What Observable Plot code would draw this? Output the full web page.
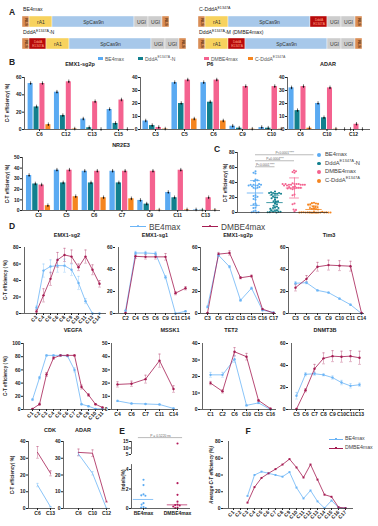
<!DOCTYPE html>
<html><head><meta charset="utf-8">
<script src="https://cdn.jsdelivr.net/npm/d3@7"></script>
<script src="https://cdn.jsdelivr.net/npm/@observablehq/plot@0.6"></script>
<style>
html,body{margin:0;padding:0;background:#fff;}
#root{position:relative;width:378px;height:526px;overflow:hidden;font-family:"Liberation Sans",Arial,sans-serif;color:#222;}
.t{position:absolute;white-space:nowrap;line-height:1;}
sup{font-size:70%;vertical-align:super;line-height:0;}
</style></head><body><div id="root"></div>
<script>
// ---------------- DATA ----------------
// Panel A: construct parts (relative lengths)
const partNames = ["NLS", "rA1", "SpCas9n", "UGI", "DddA"];
const partLen = {NLS: 7, rA1: 23, SpCas9n: 82, UGI: 14, DddA: 17};
const constructBE4max = ["NLS", "rA1", "SpCas9n", "UGI", "UGI", "NLS"];
const constructCDddA = ["NLS", "rA1", "SpCas9n", "DddA", "UGI", "UGI", "NLS"];
const constructDddAN = ["NLS", "DddA", "rA1", "SpCas9n", "UGI", "UGI", "NLS"];
const constructDMBE4max = ["NLS", "rA1", "DddA", "SpCas9n", "UGI", "UGI", "NLS"];

// Panel B
const bSeries = ["BE4max", "DddA-N", "DMBE4max", "C-DddA"];
const emx1Sites = ["C6", "C12", "C13", "C15"];
const emx1BE4max = [53, 43, 12, 23];
const emx1DddAN = [26, 16, 2, 7];
const emx1DMBE4max = [53, 55, 32, 34];
const emx1CDddA = [5.5, 0.5, 0, 0];
const p6Sites = ["C3", "C5", "C6", "C9", "C10"];
const p6BE4max = [6.5, 36, 36, 2.5, 1.5];
const p6DddAN = [3, 20, 21, 1, 1];
const p6DMBE4max = [1.5, 38, 38, 33, 33];
const p6CDddA = [0.3, 8, 6.5, 0.2, 0.2];
const adarSites = ["C6", "C10", "C12"];
const adarBE4max = [32, 20, 0];
const adarDddAN = [14.5, 9, 0];
const adarDMBE4max = [33, 32, 4];
const adarCDddA = [1, 0.2, 0];
const nr2e3Sites = ["C3", "C5", "C6", "C7", "C9", "C11", "C13"];
const nr2e3BE4max = [33, 38, 37, 37, 9.5, 17, 0.5];
const nr2e3DddAN = [25, 26, 26, 26, 6, 12, 0.3];
const nr2e3DMBE4max = [24, 38, 37, 37, 37, 38, 12];
const nr2e3CDddA = [4.5, 13, 12, 11, 0.3, 0.5, 0.2];

// Panel C (per-position efficiencies)
const cBE4max = [55, 52, 53, 44, 42, 43, 12, 11, 23, 22, 6.5, 6, 36, 37, 36, 35, 2.5, 1.5, 32, 33, 20, 21, 0, 33, 34, 38, 37, 37, 36, 9.5, 17, 18, 0.5, 0.3];
const cDddAN = [28, 25, 26, 17, 15, 2, 1, 7, 6, 3, 2.5, 20, 21, 20, 19, 1, 0.5, 1, 14.5, 15, 9, 8, 0, 25, 24, 26, 27, 26, 25, 6, 5, 12, 11, 0.3];
const cDMBE4max = [53, 54, 55, 56, 32, 31, 34, 35, 1.5, 38, 39, 38, 37, 33, 32, 33, 34, 33, 32, 4, 3.5, 24, 23, 38, 37, 37, 36, 37, 38, 37, 36, 38, 12, 11];
const cCDddA = [5.5, 5, 0.5, 0, 0, 0, 0.3, 8, 7.5, 7, 6, 0.2, 0, 1, 0, 0, 4.5, 4, 13, 12.5, 12, 11.5, 11, 10.5, 0.3, 0.2, 0.2, 0, 0, 0];
const cPvalues = [
  {a: 0, b: 3, y: 77, t: "P<0.0001****"},
  {a: 0, b: 2, y: 69, t: "P=0.0004***"},
  {a: 0, b: 1, y: 61, t: "P<0.0001****"}
];

// Panel D
const dSeries = ["BE4max", "DMBE4max"];
const emx1sg2Cats = ["C3", "C4", "C5", "C6", "C8", "C9", "C10", "C11", "C13", "C14"];
const emx1sg2BE4max = [7, 52, 57, 58, 58, 53, 37, 15, 0, 0];
const emx1sg2DMBE4max = [2.5, 22, 42, 65, 71, 69, 56, 69, 53, 36];
const emx1sg2ErrB = [2, 8, 8, 8, 8, 7, 8, 3, 0, 0];
const emx1sg2ErrR = [2, 8, 8, 9, 8, 8, 4, 8, 6, 4];
const emx1sg1Cats = ["C2", "C4", "C5", "C6", "C9", "C11", "C14"];
const emx1sg1BE4max = [2.5, 55, 55, 54.5, 33, 0, 2];
const emx1sg1DMBE4max = [0.5, 52, 51.5, 51.5, 51.5, 18.5, 23];
const emx1sg1ErrB = [0.5, 1.5, 1.5, 1.5, 1.5, 0, 0.5];
const emx1sg1ErrR = [0.3, 2, 2, 2, 3, 1.5, 1.5];
const emx1sg2pCats = ["C3", "C6", "C12", "C13", "C15", "C16", "C17"];
const emx1sg2pLineBE4max = [6, 53, 42.5, 12, 23, 3, 1];
const emx1sg2pLineDMBE4max = [0.5, 54, 55, 32.5, 34, 4, 0.5];
const emx1sg2pErrB = [1, 1, 1, 1, 1, 0.5, 0.2];
const emx1sg2pErrR = [0.3, 1.5, 2, 1, 1, 0.5, 0.2];
const tim3Cats = ["C3", "C6", "C8", "C9", "C10", "C11", "C14"];
const tim3BE4max = [27.5, 28, 21, 19, 13.5, 8, 0];
const tim3DMBE4max = [23.5, 31.5, 42.5, 44, 43.5, 43, 0.5];
const tim3ErrB = [1.5, 1, 0.5, 0.5, 0.5, 0.5, 0];
const tim3ErrR = [3, 3, 4, 4.5, 4.5, 4.5, 0.3];
const vegfaCats = ["C1", "C2", "C3", "C4", "C5", "C6", "C7", "C8", "C9", "C10", "C11"];
const vegfaBE4max = [15, 48, 82, 82, 82, 81, 60, 8, 5, 1, 1];
const vegfaDMBE4max = [1, 8, 53, 78, 82, 82, 82, 34, 22, 8, 3];
const vegfaErrB = [1.5, 2, 1, 1, 1, 1, 3, 1, 1, 0.5, 0.3];
const vegfaErrR = [0.5, 1.5, 3, 2, 1, 1, 1, 3, 2, 1, 0.5];
const mssk1Cats = ["C4", "C6", "C7", "C11", "C14"];
const mssk1BE4max = [6.5, 4.5, 4.2, 3.8, 0.8];
const mssk1DMBE4max = [19, 19.5, 23, 37, 15.5];
const mssk1ErrB = [0.5, 0.3, 0.3, 0.3, 0.3];
const mssk1ErrR = [2, 2, 3, 5, 2.5];
const tet2Cats = ["C1", "C2", "C6", "C10", "C15", "C16"];
const tet2BE4max = [21, 21, 30.5, 2.5, 4, 0];
const tet2DMBE4max = [16, 11, 35, 32, 5.5, 0.5];
const tet2ErrB = [1.5, 1.5, 2, 0.3, 0.5, 0.2];
const tet2ErrR = [1, 1, 2.5, 2, 0.5, 0.3];
const dnmt3bCats = ["C5", "C6", "C7", "C8", "C9", "C10", "C11", "C13"];
const dnmt3bBE4max = [12.5, 32, 32.5, 31.5, 29, 24.5, 21.5, 22.5];
const dnmt3bDMBE4max = [0.5, 17.5, 37, 46.5, 48.5, 48, 48.5, 47];
const dnmt3bErrB = [3, 1.5, 1.5, 1, 1.5, 2, 2, 1.5];
const dnmt3bErrR = [0.5, 1.5, 4, 5, 5, 5, 5, 6];
const cdkCats = ["C6", "C13"];
const cdkBE4max = [14, 1];
const cdkDMBE4max = [33.5, 21];
const cdkErrB = [1, 0.2];
const cdkErrR = [3.5, 1.5];
const adarLineCats = ["C6", "C10", "C12"];
const adarLineBE4max = [32.5, 21, 0];
const adarLineDMBE4max = [33.5, 33, 4];
const adarLineErrB = [1, 1, 0.2];
const adarLineErrR = [2, 2, 0.3];

// Panel E (indels %)
const eGroups = ["BE4max", "DMBE4max"];
const eBE4max = [2.95, 2.4, 1.45, 1.35, 1.3, 0.55, 0.4, 0.15, 0.1, 0.05];
const eDMBE4max = [13.5, 2.6, 1.4, 0.7, 0.4, 0.35, 0.3, 0.2, 0.1, 0.05];
const eTicks = [0, 2, 4, 5, 10, 15];

// Panel F
const fCats = ["C1","C2","C3","C4","C5","C6","C7","C8","C9","C10","C11","C12","C13","C14","C15","C16","C17"];
const fBE4max = [null, null, 15, 40, 44, 42, 40, 38, 43.5, 25, 12, 21.5, 8.5, 0.5, 9.5, 1, 0.5];
const fDMBE4max = [null, null, 7, 25.5, 36.5, 42, 47, 52.5, 59, 49, 37, 52.5, 34.5, 16.5, 14, 1.5, 0.5];

// ---------------- STYLE ----------------
const FONT = '"Liberation Sans", Arial, sans-serif';
const partColors = ["#d98d55", "#f7d25e", "#a7c8ea", "#cdcdcd", "#b80a0a"];
const bColors = ["#5aaaf2", "#12808e", "#f4628f", "#f5851f"];
const dColors = ["#6cb5f6", "#a51c52"];
const root = document.getElementById("root");
const baseStyle = () => ({fontFamily: FONT, fontSize: "5px", fontWeight: "bold", background: "transparent", overflow: "visible", color: "#222"});
function place(el, left, top) {
  el.style.position = "absolute"; el.style.left = left + "px"; el.style.top = top + "px";
  root.appendChild(el);
}
function label(html, x, y, o = {}) {
  const el = document.createElement("div");
  el.className = "t";
  el.innerHTML = html;
  el.style.left = x + "px"; el.style.top = y + "px";
  el.style.fontSize = (o.size || 5) + "px";
  el.style.fontWeight = o.weight || "bold";
  if (o.color) el.style.color = o.color;
  if (o.italic) el.style.fontStyle = "italic";
  const ax = o.anchor === "start" ? "0" : o.anchor === "end" ? "-100%" : "-50%";
  el.style.transform = `translate(${ax}, -50%)` + (o.rotate ? ` rotate(${o.rotate}deg)` : "");
  root.appendChild(el);
}
function swatch(x, y, w, h, color, radius = 0) {
  const el = document.createElement("div");
  Object.assign(el.style, {position: "absolute", left: (x - w / 2) + "px", top: (y - h / 2) + "px", width: w + "px", height: h + "px", background: color, borderRadius: radius + "px"});
  root.appendChild(el);
}

// ---------------- PANEL A ----------------
function construct(parts, left, top) {
  const segs = parts.map(p => ({part: p, len: partLen[p]}));
  const total = d3.sum(segs, d => d.len);
  const plot = Plot.plot({
    width: total, height: 11, margin: 0,
    x: {domain: [0, total], axis: null},
    color: {domain: partNames, range: partColors},
    style: baseStyle(),
    marks: [
      Plot.barX(segs, {x: "len", fill: "part", stroke: "#fff", strokeWidth: 0.4}),
      Plot.text(segs, Plot.stackX({x: "len", text: d => (d.part === "NLS" || d.part === "DddA") ? null : d.part, fill: "#333", fontSize: 5, fontWeight: "normal"})),
      Plot.text(segs, Plot.stackX({x: "len", text: d => d.part === "NLS" ? "NLS" : null, rotate: 90, fontSize: 3.8, fill: "#5a3010"})),
      Plot.text(segs, Plot.stackX({x: "len", text: d => d.part === "DddA" ? "DddA\nE1347A" : null, fontSize: 3.3, lineHeight: 1.05, fill: "#ffa486", fontWeight: "normal"}))
    ]
  });
  place(plot, left, top);
}
label("A", 12, 12, {size: 8.5});
label("BE4max", 23, 10, {size: 5.2, weight: "normal", anchor: "start"});
label("C-DddA<sup>E1347A</sup>", 199, 10, {size: 5.2, weight: "normal", anchor: "start"});
label("DddA<sup>E1347A</sup>-N", 23, 32.5, {size: 5.2, weight: "normal", anchor: "start"});
label("DddA<sup>E1347A</sup>-M (DMBE4max)", 199, 32.5, {size: 5.2, weight: "normal", anchor: "start"});
construct(constructBE4max, 22, 16);
construct(constructCDddA, 198, 16);
construct(constructDddAN, 22, 38);
construct(constructDMBE4max, 198, 38);

// ---------------- PANEL B ----------------
function barChart(cfg) {
  const {sites, series, yMax, yStep, x0, x1, y0, y1, g0, g1} = cfg;
  const n = sites.length, step = (g1 - g0) / (n - 1);
  const lo = -(g0 - x0) / step, hi = n - 1 + (x1 - g1) / step;
  const rows = [];
  series.forEach((vals, k) => vals.forEach((v, g) => rows.push({site: sites[g], s: bSeries[k], k, g, v})));
  const bs = 0.225, bw = 0.19;
  const cx = d => d.g + (d.k - 1.5) * bs;
  const mL = 14, mR = 2, mT = 3, mB = 9;
  const plot = Plot.plot({
    width: x1 - x0 + mL + mR, height: y1 - y0 + mT + mB,
    marginLeft: mL, marginRight: mR, marginTop: mT, marginBottom: mB,
    style: baseStyle(),
    x: {domain: [lo, hi], ticks: d3.range(n), tickFormat: i => sites[i], tickSize: 2, tickPadding: 1, label: null},
    y: {domain: [0, yMax], ticks: d3.range(0, yMax + 0.001, yStep), tickSize: 2, tickPadding: 1, label: null},
    color: {domain: bSeries, range: bColors},
    marks: [
      Plot.rect(rows, {x1: d => cx(d) - bw / 2, x2: d => cx(d) + bw / 2, y1: d => 0, y2: "v", fill: "s"}),
      Plot.ruleX(rows, {x: cx, y1: "v", y2: "v", stroke: "#111", strokeWidth: 0.6, insetTop: -1.8, insetBottom: -1.8}),
      Plot.dot(rows, {x: cx, y: "v", r: 0.8, fill: "#111"}),
      Plot.ruleY([0], {strokeWidth: 0.7}),
      Plot.ruleX([lo], {strokeWidth: 0.7})
    ]
  });
  place(plot, x0 - mL, y0 - mT);
}
label("B", 12, 62, {size: 8.5});
[[100, "BE4max"], [140, "DddA<sup>E1347A</sup>-N"], [206, "DMBE4max"], [250, "C-DddA<sup>E1347A</sup>"]].forEach(([x, t], k) => {
  swatch(x, 58.5, 5, 3.5, bColors[k]);
  label(t, x + 5, 58.5, {size: 5, weight: "normal", anchor: "start", color: "#555"});
});
label("EMX1-sg2p", 80, 65, {size: 5.5});
label("P6", 210, 65, {size: 5.5});
label("ADAR", 328, 65, {size: 5.5});
label("NR2E3", 121, 146, {size: 5.5});
label("C-T efficiency( %)", 8, 103, {size: 4.6, rotate: -90});
label("C-T efficiency( %)", 8, 184, {size: 4.6, rotate: -90});
barChart({sites: emx1Sites, series: [emx1BE4max, emx1DddAN, emx1DMBE4max, emx1CDddA], yMax: 60, yStep: 20, x0: 24, x1: 134, y0: 77, y1: 129, g0: 39, g1: 118});
barChart({sites: p6Sites, series: [p6BE4max, p6DddAN, p6DMBE4max, p6CDddA], yMax: 40, yStep: 10, x0: 140, x1: 282, y0: 77, y1: 129, g0: 155, g1: 271});
barChart({sites: adarSites, series: [adarBE4max, adarDddAN, adarDMBE4max, adarCDddA], yMax: 40, yStep: 10, x0: 287, x1: 370, y0: 77, y1: 129, g0: 300, g1: 353});
barChart({sites: nr2e3Sites, series: [nr2e3BE4max, nr2e3DddAN, nr2e3DMBE4max, nr2e3CDddA], yMax: 50, yStep: 10, x0: 22, x1: 220, y0: 157, y1: 210, g0: 38, g1: 205});

// ---------------- PANEL C ----------------
{
  const groups = [cBE4max, cDddAN, cDMBE4max, cCDddA];
  const x0 = 237, x1 = 328, y0 = 152, y1 = 212, mL = 12, mR = 2, mT = 3, mB = 3;
  const c0 = 255, cs = 19.5;
  const lo = -(c0 - x0) / cs, hi = 3 + (x1 - (c0 + 3 * cs)) / cs;
  const pxPerU = (x1 - x0) / (hi - lo), mid = (lo + hi) / 2;
  const marks = [];
  groups.forEach((vals, k) => {
    const m = d3.mean(vals), sd = d3.deviation(vals);
    marks.push(Plot.dot(vals, Plot.dodgeX({anchor: "middle", padding: 0}, {y: d => d, r: 1.05, fill: bColors[k], dx: (k - mid) * pxPerU})));
    marks.push(Plot.ruleY([m], {x1: k - 0.42, x2: k + 0.42, stroke: bColors[k], strokeWidth: 0.8}));
    marks.push(Plot.ruleY([m - sd, m + sd], {x1: k - 0.25, x2: k + 0.25, stroke: bColors[k], strokeWidth: 0.7}));
    marks.push(Plot.ruleX([k], {y1: Math.max(0, m - sd), y2: m + sd, stroke: bColors[k], strokeWidth: 0.7}));
  });
  marks.push(Plot.ruleY(cPvalues, {y: "y", x1: "a", x2: "b", stroke: "#777", strokeWidth: 0.5}));
  marks.push(Plot.text(cPvalues, {y: "y", x: d => (d.a + d.b) / 2, text: "t", dy: -2, fontSize: 3.2, fill: "#666", fontWeight: "normal"}));
  marks.push(Plot.ruleY([0], {strokeWidth: 0.7}), Plot.ruleX([lo], {strokeWidth: 0.7}));
  const plot = Plot.plot({
    width: x1 - x0 + mL + mR, height: y1 - y0 + mT + mB,
    marginLeft: mL, marginRight: mR, marginTop: mT, marginBottom: mB,
    style: baseStyle(),
    x: {domain: [lo, hi], axis: null},
    y: {domain: [0, 80], ticks: [0, 20, 40, 60, 80], tickSize: 2, tickPadding: 1, label: null},
    marks
  });
  place(plot, x0 - mL, y0 - mT);
  label("C", 217, 149, {size: 8.5});
  label("C-T efficiency( %)", 226, 183, {size: 4.6, rotate: -90});
  [[155, "BE4max"], [163.5, "DddA<sup>E1347A</sup>-N"], [172, "DMBE4max"], [181, "C-DddA<sup>E1347A</sup>"]].forEach(([y, t], k) => {
    swatch(319, y, 3.6, 3.6, bColors[k], 2);
    label(t, 325, y, {size: 5.8, weight: "normal", anchor: "start", color: "#444"});
  });
}

// ---------------- PANEL D ----------------
const capSymbol = {draw(ctx, size) { const w = Math.sqrt(size / Math.PI); ctx.moveTo(-w, 0); ctx.lineTo(w, 0); }};
function lineChart(cfg) {
  const {cats, blue, red, errB, errR, yMax, yStep, x0, x1, y0, y1, first, last, rotate, dots = true, symbol = "circle", r = 1.2} = cfg;
  const mL = 13, mR = 2, mT = 3, mB = rotate ? 14 : 9;
  const rows = [];
  cats.forEach((c, i) => {
    rows.push({c, s: "BE4max", v: blue[i], e: errB ? errB[i] : 0});
    rows.push({c, s: "DMBE4max", v: red[i], e: errR ? errR[i] : 0});
  });
  const valid = rows.filter(d => d.v != null);
  const err = valid.filter(d => d.e > 0);
  const marks = [
    Plot.ruleX(err, {x: "c", y1: d => Math.max(0, d.v - d.e), y2: d => d.v + d.e, stroke: "s", strokeOpacity: 0.55, strokeWidth: 0.6}),
    Plot.dot(err, {x: "c", y: d => d.v + d.e, symbol: capSymbol, r: 1.4, stroke: "s", strokeOpacity: 0.55, strokeWidth: 0.6, fill: "none"}),
    Plot.dot(err.filter(d => d.v - d.e > 0), {x: "c", y: d => d.v - d.e, symbol: capSymbol, r: 1.4, stroke: "s", strokeOpacity: 0.55, strokeWidth: 0.6, fill: "none"}),
    Plot.line(valid, {x: "c", y: "v", stroke: "s", strokeWidth: 0.8})
  ];
  if (dots) marks.push(Plot.dot(valid, {x: "c", y: "v", fill: "s", r, symbol}));
  marks.push(Plot.ruleY([0], {strokeWidth: 0.7}), Plot.ruleX([cats[0]], {dx: -(first - x0), strokeWidth: 0.7}));
  const plot = Plot.plot({
    width: x1 - x0 + mL + mR, height: y1 - y0 + mT + mB,
    marginLeft: mL, marginRight: mR, marginTop: mT, marginBottom: mB,
    style: baseStyle(),
    x: {type: "point", domain: cats, range: [first - x0 + mL, last - x0 + mL], padding: 0, tickSize: 2, tickPadding: 1, tickRotate: rotate ? -45 : 0, label: null},
    y: {domain: [0, yMax], ticks: d3.range(0, yMax + 0.001, yStep), tickSize: 2, tickPadding: 1, label: null},
    color: {domain: dSeries, range: dColors},
    marks
  });
  place(plot, x0 - mL, y0 - mT);
}
label("D", 12, 226, {size: 8.5});
// D legend
[[130, "BE4max", 0], [202, "DMBE4max", 1]].forEach(([x, t, k]) => {
  swatch(x + 8, 226, 16, 0.9, dColors[k]);
  swatch(x + 8, 226, 2.6, 2.6, dColors[k], 1.3);
  label(t, x + 19, 226.5, {size: 8.3, weight: "normal", anchor: "start", color: "#444"});
});
label("EMX1-sg2", 67, 236, {size: 5.5});
label("EMX1-sg1", 155, 236, {size: 5.5});
label("EMX1-sg2p", 238, 236, {size: 5.5});
label("Tim3", 329, 236, {size: 5.5});
label("VEGFA", 73, 331, {size: 5.5});
label("MSSK1", 170, 331, {size: 5.5});
label("TET2", 231, 331, {size: 5.5});
label("DNMT3B", 325, 331, {size: 5.5});
label("CDK", 50, 431, {size: 5.5});
label("ADAR", 83, 431, {size: 5.5});
label("C-T efficiency ( %)", 6, 280, {size: 4.6, rotate: -90});
label("C-T efficiency ( %)", 6, 376, {size: 4.6, rotate: -90});
label("C-T efficiency( %)", 13, 475, {size: 4.6, rotate: -90});

lineChart({cats: emx1sg2Cats, blue: emx1sg2BE4max, red: emx1sg2DMBE4max, errB: emx1sg2ErrB, errR: emx1sg2ErrR, yMax: 80, yStep: 20, x0: 21, x1: 106, y0: 247, y1: 313, first: 33, last: 102, rotate: true});
lineChart({cats: emx1sg1Cats, blue: emx1sg1BE4max, red: emx1sg1DMBE4max, errB: emx1sg1ErrB, errR: emx1sg1ErrR, yMax: 60, yStep: 20, x0: 115, x1: 190, y0: 247, y1: 313, first: 122, last: 187});
lineChart({cats: emx1sg2pCats, blue: emx1sg2pLineBE4max, red: emx1sg2pLineDMBE4max, errB: emx1sg2pErrB, errR: emx1sg2pErrR, yMax: 60, yStep: 20, x0: 200, x1: 276, y0: 247, y1: 313, first: 207, last: 273});
lineChart({cats: tim3Cats, blue: tim3BE4max, red: tim3DMBE4max, errB: tim3ErrB, errR: tim3ErrR, yMax: 60, yStep: 20, x0: 288, x1: 364, y0: 247, y1: 313, first: 295, last: 361});
lineChart({cats: vegfaCats, blue: vegfaBE4max, red: vegfaDMBE4max, errB: vegfaErrB, errR: vegfaErrR, yMax: 100, yStep: 20, x0: 23, x1: 106, y0: 343, y1: 409, first: 32, last: 102, rotate: true});
lineChart({cats: mssk1Cats, blue: mssk1BE4max, red: mssk1DMBE4max, errB: mssk1ErrB, errR: mssk1ErrR, yMax: 50, yStep: 10, x0: 110, x1: 178, y0: 343, y1: 409, first: 116, last: 173});
lineChart({cats: tet2Cats, blue: tet2BE4max, red: tet2DMBE4max, errB: tet2ErrB, errR: tet2ErrR, yMax: 40, yStep: 10, x0: 200, x1: 276, y0: 343, y1: 409, first: 208, last: 272});
lineChart({cats: dnmt3bCats, blue: dnmt3bBE4max, red: dnmt3bDMBE4max, errB: dnmt3bErrB, errR: dnmt3bErrR, yMax: 60, yStep: 20, x0: 288, x1: 364, y0: 343, y1: 409, first: 293, last: 361});
lineChart({cats: cdkCats, blue: cdkBE4max, red: cdkDMBE4max, errB: cdkErrB, errR: cdkErrR, yMax: 40, yStep: 10, x0: 28, x1: 55, y0: 441, y1: 508, first: 37, last: 50, dots: false});
lineChart({cats: adarLineCats, blue: adarLineBE4max, red: adarLineDMBE4max, errB: adarLineErrB, errR: adarLineErrR, yMax: 40, yStep: 10, x0: 63, x1: 110, y0: 441, y1: 508, first: 78, last: 106, dots: false});

// ---------------- PANEL E ----------------
{
  const groups = [eBE4max, eDMBE4max];
  const gColors = ["#5aaaf2", "#b2185a"];
  const f = v => v <= 4.5 ? v : 5.54 + (v - 5) * 0.133;
  const top = f(15);
  const x0 = 131, x1 = 190, y0 = 441, y1 = 508, mL = 10, mR = 2, mT = 8, mB = 9;
  const c0 = 143, cs = 34;
  const lo = -(c0 - x0) / cs, hi = 1 + (x1 - (c0 + cs)) / cs;
  const pxPerU = (x1 - x0) / (hi - lo), mid = (lo + hi) / 2;
  const marks = [];
  groups.forEach((vals, k) => {
    marks.push(Plot.dot(vals, Plot.dodgeX({anchor: "middle", padding: 0.3}, {y: d => f(d), r: 1.05, fill: gColors[k], dx: (k - mid) * pxPerU})));
    marks.push(Plot.ruleY([f(d3.median(vals))], {x1: k - 0.3, x2: k + 0.3, stroke: gColors[k], strokeWidth: 0.7}));
  });
  marks.push(Plot.ruleY([top + 0.4], {x1: -0.15, x2: 1.15, stroke: "#777", strokeWidth: 0.5}));
  marks.push(Plot.text(["P = 0.5220 ns"], {x: 0.5, y: top + 0.4, text: d => d, dy: -2, fontSize: 3.3, fill: "#666", fontWeight: "normal"}));
  marks.push(Plot.ruleY([0], {strokeWidth: 0.7}));
  marks.push(Plot.ruleX([{a: 0, b: 4.5}, {a: f(5), b: top}], {x: lo, y1: "a", y2: "b", strokeWidth: 0.7}));
  const plot = Plot.plot({
    width: x1 - x0 + mL + mR, height: y1 - y0 + mT + mB,
    marginLeft: mL, marginRight: mR, marginTop: mT, marginBottom: mB,
    style: baseStyle(),
    x: {domain: [lo, hi], ticks: [0, 1], tickFormat: i => eGroups[i], tickSize: 2, tickPadding: 1, label: null},
    y: {domain: [0, top], ticks: eTicks.map(f), tickFormat: t => eTicks.find(v => Math.abs(f(v) - t) < 1e-6), tickSize: 2, tickPadding: 1, label: null},
    marks
  });
  place(plot, x0 - mL, y0 - mT);
  label("E", 122, 431, {size: 8.5});
  label("Indels(%)", 124, 480, {size: 4.8, rotate: -90});
}

// ---------------- PANEL F ----------------
label("F", 248, 431, {size: 8.5});
label("Average C-T efficiency (%)", 212, 475, {size: 4.6, rotate: -90, italic: true});
lineChart({cats: fCats, blue: fBE4max, red: fDMBE4max, yMax: 80, yStep: 20, x0: 223, x1: 353, y0: 441, y1: 508, first: 228, last: 350, rotate: true, symbol: "square", r: 1.1});
[[439, "BE4max", 0], [448, "DMBE4max", 1]].forEach(([y, t, k]) => {
  swatch(336, y, 14, 0.8, dColors[k]);
  swatch(336, y, 2.2, 2.2, dColors[k]);
  label(t, 345, y, {size: 5.2, weight: "normal", anchor: "start", color: "#444"});
});
</script></body></html>
